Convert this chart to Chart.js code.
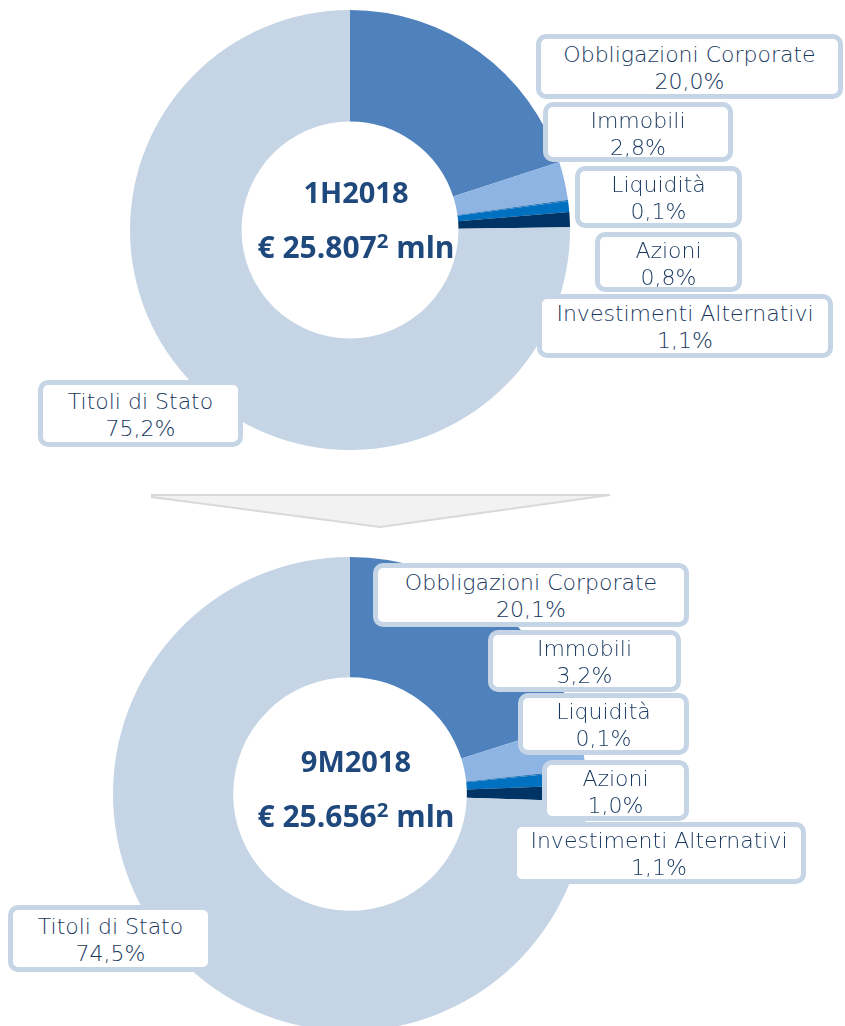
<!DOCTYPE html>
<html>
<head>
<meta charset="utf-8">
<script src="https://cdn.jsdelivr.net/npm/chart.js@4"></script>
<style>
  html, body { margin: 0; padding: 0; background: #fff; overflow: hidden; }
  #page { position: relative; width: 845px; height: 1026px; overflow: hidden; }
  .pie { position: absolute; }
  .lbl {
    position: absolute; box-sizing: border-box; background: #fff;
    border: 5px solid #C5D5E5; border-radius: 10px;
    color: #17375E; font-family: 'DejaVu Sans', sans-serif; font-size: 22px; font-weight: 300;
    line-height: 27px; text-align: center; white-space: nowrap;
  }
  .center {
    position: absolute; color: #1F497D; font-family: 'Open Sans', sans-serif;
    font-weight: 700; text-align: center; white-space: nowrap;
  }
  .center sup { font-size: 0.68em; vertical-align: 0; position: relative; top: -0.5em; }
</style>
</head>
<body>
<div id="page">
  <svg style="position:absolute;left:0;top:0" width="845" height="1026">
    <polygon points="152,495 610,495 380,527 152,497" fill="#F2F2F2" stroke="#D9D9D9" stroke-width="2"/>
  </svg>
  <canvas id="pie1" class="pie"></canvas>
  <canvas id="pie2" class="pie"></canvas>
</div>
<script>
// Asset mix, % of portfolio
const categories = ['Obbligazioni Corporate', 'Immobili', 'Liquidità', 'Azioni', 'Investimenti Alternativi', 'Titoli di Stato'];
const values1H = [20.0, 2.8, 0.1, 0.8, 1.1, 75.2];
const values9M = [20.1, 3.2, 0.1, 1.0, 1.1, 74.5];
const colors = ['#4F81BD', '#8EB4E3', '#2E75B6', '#0070C0', '#003366', '#C5D5E5'];

const periods = ['1H2018', '9M2018'];
const totals = ['€ 25.807', '€ 25.656'];

const page = document.getElementById('page');

function pct(v) { return v.toFixed(1).replace('.', ',') + '%'; }

function addLabel(text, value, box) {
  const [l, t, r, b] = box;
  const d = document.createElement('div');
  d.className = 'lbl';
  d.style.left = l + 'px'; d.style.top = t + 'px';
  d.style.width = (r - l) + 'px'; d.style.height = (b - t) + 'px';
  d.style.paddingTop = Math.round((b - t) / 2 - 27 - 5 + 1) + 'px';
  d.innerHTML = text + '<br>' + pct(value);
  page.appendChild(d);
}

function addCenter(period, total, cx, y1, y2) {
  const a = document.createElement('div');
  a.className = 'center';
  a.style.left = (cx - 150) + 'px'; a.style.width = '300px';
  a.style.top = (y1 - 21) + 'px'; a.style.fontSize = '29px';
  a.textContent = period;
  page.appendChild(a);
  const b = document.createElement('div');
  b.className = 'center';
  b.style.left = (cx - 150) + 'px'; b.style.width = '300px';
  b.style.top = (y2 - 21) + 'px'; b.style.fontSize = '30px';
  b.innerHTML = total + '<sup>2</sup> mln';
  page.appendChild(b);
}

function buildPie(id, values, cx, cy, r) {
  const canvas = document.getElementById(id);
  canvas.style.left = (cx - r) + 'px';
  canvas.style.top = (cy - r) + 'px';
  canvas.width = r * 2; canvas.height = r * 2;
  canvas.style.width = r * 2 + 'px'; canvas.style.height = r * 2 + 'px';
  return new Chart(canvas, {
    type: 'doughnut',
    data: {
      labels: categories,
      datasets: [{ data: values, backgroundColor: colors, borderWidth: 0 }]
    },
    options: {
      responsive: false,
      animation: false,
      cutout: '49.3%',
      layout: { padding: 0 },
      plugins: { legend: { display: false }, tooltip: { enabled: false } }
    }
  });
}

buildPie('pie1', values1H, 350, 230, 220);
buildPie('pie2', values9M, 350, 794, 237);

const boxes1H = [
  [536, 34, 843, 99],
  [543, 102, 733, 162],
  [575, 166, 742, 228],
  [595, 232, 742, 292],
  [537, 294, 833, 358],
  [38, 380, 243, 447]
];
const boxes9M = [
  [373, 563, 689, 627],
  [488, 630, 681, 692],
  [518, 693, 689, 755],
  [542, 760, 689, 821],
  [512, 822, 806, 884],
  [8, 905, 213, 972]
];
// draw labels in reverse so the upper boxes sit on top
for (let i = categories.length - 1; i >= 0; i--) addLabel(categories[i], values1H[i], boxes1H[i]);
for (let i = categories.length - 1; i >= 0; i--) addLabel(categories[i], values9M[i], boxes9M[i]);

addCenter(periods[0], totals[0], 356, 193, 247);
addCenter(periods[1], totals[1], 356, 762, 816);
</script>
</body>
</html>
